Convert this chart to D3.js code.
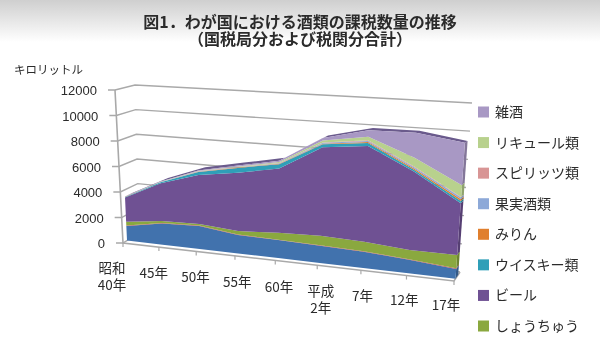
<!DOCTYPE html>
<html lang="ja">
<head>
<meta charset="utf-8">
<script src="https://cdn.jsdelivr.net/npm/d3@7"></script>
<style>
html, body { margin: 0; padding: 0; background: #fff; }
svg { display: block; filter: blur(0.35px); }
text { font-family: "Noto Sans CJK JP", sans-serif; fill: #2b2b2b; }
</style>
</head>
<body>
<svg id="drawing_region"></svg>
<script>
const categories = ["昭和\n40年", "45年", "50年", "55年", "60年", "平成\n2年", "7年", "12年", "17年"];
const yTicks = [0, 2000, 4000, 6000, 8000, 10000, 12000];

// bottom to top of the stack
const seisyu = [1150, 1650, 1760, 1390, 1340, 1260, 1170, 950, 670];
const gosei = [40, 40, 30, 30, 30, 30, 30, 40, 60];
const shochu = [300, 145, 125, 270, 507, 700, 685, 644, 910];
const beer = [1910, 2955, 3755, 4395, 4773, 6450, 6860, 5541, 3575];
const whisky = [40, 60, 230, 365, 320, 220, 215, 115, 165];
const mirin = [10, 15, 20, 25, 25, 40, 70, 80, 110];
const wine = [5, 10, 20, 25, 35, 60, 80, 100, 130];
const spirits = [5, 5, 10, 15, 20, 30, 40, 50, 40];
const liqueur = [5, 10, 30, 50, 80, 150, 260, 620, 810];
const zasshu = [10, 20, 40, 60, 100, 180, 470, 1760, 2930];

const seriesValues = [seisyu, gosei, shochu, beer, whisky, mirin, wine, spirits, liqueur, zasshu];
const seriesColors = ["#4172ad", "#c0504d", "#8aa83f", "#6f5193", "#2f9fb8", "#e07f2d", "#8da9d8", "#d89595", "#b8d18d", "#a898c4"];
const legendNames = ["雑酒", "リキュール類", "スピリッツ類", "果実酒類", "みりん", "ウイスキー類", "ビール", "しょうちゅう"];
const legendColors = ["#a898c4", "#b8d18d", "#d89595", "#8da9d8", "#e07f2d", "#2f9fb8", "#6f5193", "#8aa83f"];

const width = 600;
const height = 356;

const svg = d3.select('#drawing_region')
    .attr('width', width)
    .attr('height', height);

// page background fades from grey at the top
const grad = svg.append('defs').append('linearGradient')
    .attr('id', 'topfade')
    .attr('x1', 0).attr('y1', 0).attr('x2', 0).attr('y2', 1);
grad.append('stop').attr('offset', '0%').attr('stop-color', '#cfcfcf');
grad.append('stop').attr('offset', '100%').attr('stop-color', '#ffffff');
svg.append('rect').attr('width', width).attr('height', 42).attr('fill', 'url(#topfade)');

// corners of the 3d box: front/back, left/right, floor/top
const box = {
    flb: [123, 243], frb: [454, 281], blb: [139, 233], brb: [460, 272],
    flt: [115, 90], frt: [466, 106], blt: [135, 85], brt: [472, 103]
};
const depthFront = 0.25;
const depthBack = 0.7;
const perspective = 0.148;

const valueScale = d3.scaleLinear().domain([0, 12000]).range([0, 1]);
const indexScale = d3.scaleLinear().domain([0, categories.length - 1]).range([0, 1]);
const mix = (a, b, t) => [a[0] + (b[0] - a[0]) * t, a[1] + (b[1] - a[1]) * t];

function project(i, v, d) {
    const t = indexScale(i);
    const p = t * (1 - perspective) / (1 - perspective * t);
    const bottom = mix(mix(box.flb, box.blb, d), mix(box.frb, box.brb, d), p);
    const top = mix(mix(box.flt, box.blt, d), mix(box.frt, box.brt, d), p);
    return mix(bottom, top, valueScale(v));
}

const line = d3.line();
const gridColor = '#a9a9a9';
const last = categories.length - 1;

// gridlines on the side wall and back wall
const gridG = svg.append('g').attr('fill', 'none').attr('stroke', gridColor).attr('stroke-width', 1.4);
gridG.selectAll('path')
    .data(yTicks)
    .enter()
    .append('path')
    .attr('d', v => {
        const a = project(0, v, 0);
        return line([[a[0] - 7, a[1]], a, project(0, v, 1), project(last, v, 1)]);
    });

// axis lines
svg.append('path')
    .attr('d', line([project(0, 12000, 0), project(0, 0, 0), project(last, 0, 0), project(last, 0, 1)]))
    .attr('fill', 'none').attr('stroke', gridColor).attr('stroke-width', 1.6);
svg.append('g').selectAll('line')
    .data(d3.range(categories.length))
    .enter()
    .append('line')
    .attr('x1', i => project(i, 0, 0)[0])
    .attr('y1', i => project(i, 0, 0)[1])
    .attr('x2', i => project(i, 0, 0)[0])
    .attr('y2', i => project(i, 0, 0)[1] + 4)
    .attr('stroke', gridColor).attr('stroke-width', 1.2);

// stacked bands
const stack = d3.stack().keys(d3.range(seriesValues.length)).value((row, k) => seriesValues[k][row]);
const bands = stack(d3.range(categories.length));
const totals = bands[bands.length - 1].map(d => d[1]);
const idx = d3.range(categories.length);

// right hand side of the solid
svg.append('g').selectAll('path')
    .data(bands)
    .enter()
    .append('path')
    .attr('d', b => line([
        project(last, b[last][0], depthFront), project(last, b[last][1], depthFront),
        project(last, b[last][1], depthBack), project(last, b[last][0], depthBack)
    ]) + 'Z')
    .attr('fill', (b, k) => d3.color(seriesColors[k]).darker(0.7));

// top surface of the solid
svg.append('path')
    .attr('d', line(idx.map(i => project(i, totals[i], depthFront))
        .concat(idx.slice().reverse().map(i => project(i, totals[i], depthBack)))) + 'Z')
    .attr('fill', '#6a5a8c');

// front faces
svg.append('g').selectAll('path')
    .data(bands)
    .enter()
    .append('path')
    .attr('d', b => line(idx.map(i => project(i, b[i][1], depthFront))
        .concat(idx.slice().reverse().map(i => project(i, b[i][0], depthFront)))) + 'Z')
    .attr('fill', (b, k) => seriesColors[k]);

// y tick labels follow the leaning axis
svg.append('g').selectAll('text')
    .data(yTicks)
    .enter()
    .append('text')
    .attr('x', v => project(0, v, 0)[0] - 18)
    .attr('y', v => project(0, v, 0)[1] + 5)
    .attr('text-anchor', 'end')
    .style('font-family', '"Liberation Sans", sans-serif')
    .style('font-size', '13px')
    .text(v => v);

// category labels
const labelX = d3.scalePoint().domain(idx).range([112, 446]);
const labelY = d3.scaleLinear().domain([0, last]).range([273, 310]);
const catG = svg.append('g').selectAll('text')
    .data(categories)
    .enter()
    .append('text')
    .attr('text-anchor', 'middle')
    .style('font-size', '13.5px');
catG.selectAll('tspan')
    .data((d, i) => d.split('\n').map((s, n) => ({ s, n, i })))
    .enter()
    .append('tspan')
    .attr('x', d => labelX(d.i))
    .attr('y', d => labelY(d.i) + d.n * 16.5)
    .text(d => d.s);

// legend
const legendY = d3.scalePoint().domain(legendNames).range([112, 326]);
const legend = svg.append('g').selectAll('g')
    .data(legendNames)
    .enter()
    .append('g')
    .attr('transform', d => `translate(478, ${legendY(d)})`);
legend.append('rect')
    .attr('x', 0).attr('y', -5.5)
    .attr('width', 11).attr('height', 11)
    .attr('fill', (d, i) => legendColors[i]);
legend.append('text')
    .attr('x', 17).attr('y', 5)
    .style('font-size', '14px')
    .text(d => d);

// titles
svg.append('text')
    .attr('x', 14).attr('y', 74)
    .style('font-size', '11.5px')
    .text('キロリットル');
svg.append('text')
    .attr('x', 300).attr('y', 28)
    .attr('text-anchor', 'middle')
    .style('font-size', '16px')
    .style('font-weight', 'bold')
    .text('図1．わが国における酒類の課税数量の推移');
svg.append('text')
    .attr('x', 300).attr('y', 45)
    .attr('text-anchor', 'middle')
    .style('font-size', '16px')
    .style('font-weight', 'bold')
    .text('（国税局分および税関分合計）');
</script>
</body>
</html>
